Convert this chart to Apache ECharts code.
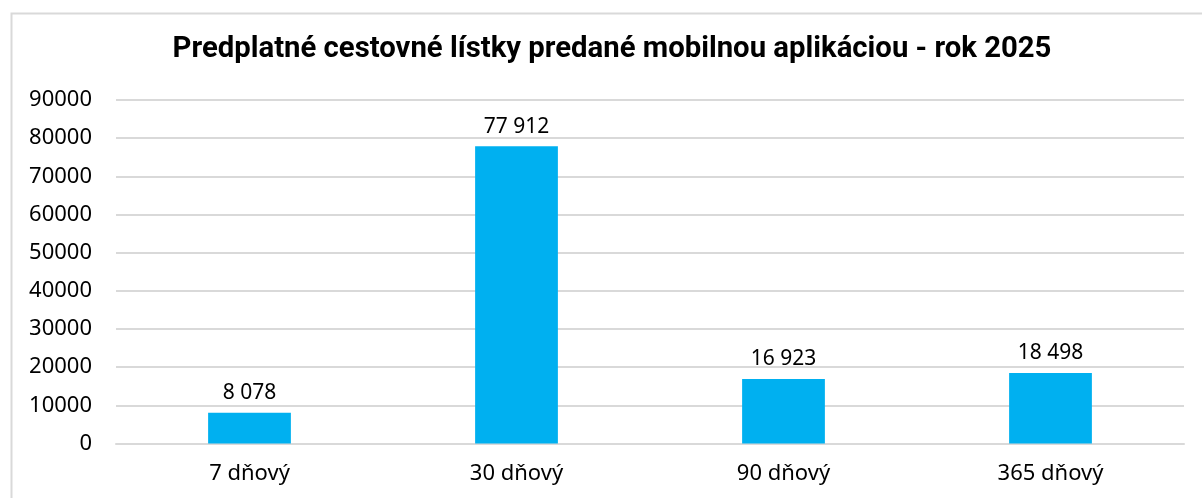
<!DOCTYPE html>
<html>
<head>
<meta charset="utf-8">
<script src="https://cdn.jsdelivr.net/npm/echarts@6/dist/echarts.min.js"></script>
<style>
  html, body { margin: 0; padding: 0; background: #fff; }
  #main { width: 1202px; height: 498px; }
</style>
</head>
<body>
<div id="main"></div>
<script>
// údaje z grafu
var kategorie = ['7 dňový', '30 dňový', '90 dňový', '365 dňový'];
var predane = [8078, 77912, 16923, 18498];
var titulok = 'Predplatné cestovné lístky predané mobilnou aplikáciou - rok 2025';

var myChart = echarts.init(document.getElementById('main'));

// medzera ako oddelovač tisícov
function formatCislo(v) {
    return String(v).replace(/\B(?=(\d{3})+(?!\d))/g, ' ');
}

myChart.setOption({
    animation: false,
    textStyle: { fontFamily: 'Noto Sans' },
    graphic: [{
        type: 'rect',
        left: 9, top: 11,
        shape: { width: 1210, height: 500 },
        style: { fill: 'none', stroke: '#d9d9d9', lineWidth: 2 }
    }],
    title: {
        text: titulok,
        left: 607,
        textAlign: 'center',
        top: 30,
        textStyle: { fontSize: 29.3, fontWeight: 'bold', color: '#000', fontFamily: 'Roboto' }
    },
    grid: { left: 116, right: 18, top: 100, bottom: 54.5, containLabel: false },
    xAxis: {
        type: 'category',
        data: kategorie,
        axisLine: { lineStyle: { color: '#d9d9d9', width: 2 } },
        axisTick: { show: false },
        axisLabel: { fontSize: 22, color: '#000', margin: 19 }
    },
    yAxis: {
        type: 'value',
        min: 0, max: 90000, interval: 10000,
        axisLine: { show: false },
        axisTick: { show: false },
        splitLine: { lineStyle: { color: '#d9d9d9', width: 2 } },
        axisLabel: { fontSize: 22, color: '#000', margin: 24, formatter: function (v) { return String(v); } }
    },
    series: [{
        type: 'bar',
        data: predane,
        barWidth: '31%',
        itemStyle: { color: '#00b0f0' },
        label: {
            show: true,
            position: 'top',
            distance: 9,
            fontSize: 21,
            color: '#000',
            formatter: function (p) { return formatCislo(p.value); }
        }
    }]
});
</script>
</body>
</html>
